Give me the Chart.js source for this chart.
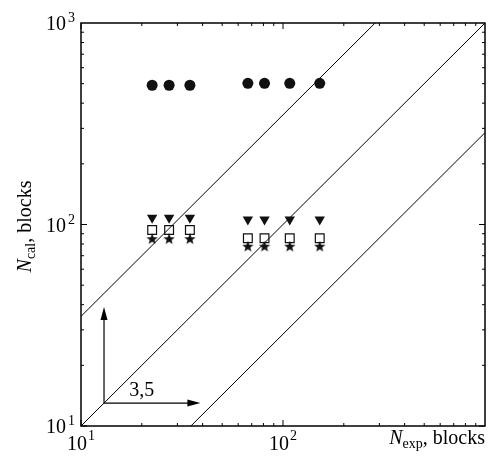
<!DOCTYPE html>
<html>
<head>
<meta charset="utf-8">
<script src="https://cdn.jsdelivr.net/npm/chart.js@4"></script>
<style>
  body { margin: 0; background: #fff; }
</style>
</head>
<body>
<canvas id="c" width="488" height="468"></canvas>
<script>
// experimental block counts (x) and calculated ones (y) for the four methods
const nExp = [22.5, 27.3, 34.6, 67, 81, 108, 152];
const circles = [491, 491, 491, 502, 502, 502, 502];
const triangles = [108, 108, 108, 106, 106, 106, 106];
const squares = [94, 94, 94, 85.5, 85.5, 85.5, 85.5];
const stars = [84.5, 84.5, 84.5, 77.6, 77.6, 77.6, 77.6];

// reference lines y = k * x
const ratios = [3.5, 1, 1 / 3.5];
const axisMin = 10, axisMax = 1000;
const xLabelTicks = [10, 100];
const yLabelTicks = [10, 100, 1000];
const arrowFrom = 13, arrowTo = 39, arrowLabel = '3,5';

const INK = '#111';
const SERIF = '"Liberation Serif", "Times New Roman", serif';

function pts(ys) {
    return nExp.map((x, i) => ({ x: x, y: ys[i] }));
}

// filled five-pointed star, used as point style
function makeStar(size) {
    const cv = document.createElement('canvas');
    cv.width = size; cv.height = size;
    const g = cv.getContext('2d');
    const c = size / 2, R = size / 2, r = R * 0.42;
    g.beginPath();
    for (let i = 0; i < 10; i++) {
        const a = -Math.PI / 2 + i * Math.PI / 5;
        const rr = i % 2 ? r : R;
        g.lineTo(c + rr * Math.cos(a), c + rr * Math.sin(a));
    }
    g.closePath();
    g.fillStyle = INK;
    g.fill();
    return cv;
}

const lineSets = ratios.map(k => ({
    type: 'line',
    data: [{ x: axisMin, y: k * axisMin }, { x: axisMax, y: k * axisMax }],
    borderColor: '#000',
    borderWidth: 1,
    pointRadius: 0,
    fill: false
}));

const frameAndText = {
    id: 'frameAndText',
    afterDatasetsDraw(chart) {
        const c = chart.ctx;
        const { left, right, top, bottom } = chart.chartArea;
        const xs = chart.scales.x, ys = chart.scales.y;
        c.save();
        c.strokeStyle = '#000';
        c.fillStyle = '#000';

        // arrows
        const ox = xs.getPixelForValue(arrowFrom), oy = ys.getPixelForValue(arrowFrom);
        const tx = xs.getPixelForValue(arrowTo), ty = ys.getPixelForValue(arrowTo);
        c.lineWidth = 1.2;
        c.beginPath();
        c.moveTo(ox, oy); c.lineTo(ox, ty + 10);
        c.moveTo(ox, oy); c.lineTo(tx - 10, oy);
        c.stroke();
        c.beginPath();
        c.moveTo(ox, ty); c.lineTo(ox - 3.5, ty + 13); c.lineTo(ox + 3.5, ty + 13); c.closePath();
        c.moveTo(tx, oy); c.lineTo(tx - 13, oy - 3.5); c.lineTo(tx - 13, oy + 3.5); c.closePath();
        c.fill();
        c.font = '20px ' + SERIF;
        c.textAlign = 'center';
        c.textBaseline = 'alphabetic';
        c.fillText(arrowLabel, xs.getPixelForValue(20), oy - 7);

        // frame
        c.lineWidth = 1.5;
        c.strokeRect(left, top, right - left, bottom - top);

        // inward ticks on all four sides
        c.lineWidth = 1;
        c.beginPath();
        for (let d = axisMin; d < axisMax; d *= 10) {
            for (let m = 1; m < 10; m++) {
                const v = d * m;
                const len = m === 1 ? 6 : 3;
                const x = xs.getPixelForValue(v), y = ys.getPixelForValue(v);
                c.moveTo(x, bottom); c.lineTo(x, bottom - len);
                c.moveTo(x, top); c.lineTo(x, top + len);
                c.moveTo(left, y); c.lineTo(left + len, y);
                c.moveTo(right, y); c.lineTo(right - len, y);
            }
        }
        c.stroke();

        // tick labels 10^n
        const big = '20px ' + SERIF, small = '14px ' + SERIF;
        c.textAlign = 'left';
        yLabelTicks.forEach(v => {
            const y = ys.getPixelForValue(v);
            const e = String(Math.round(Math.log10(v)));
            c.font = small;
            const we = c.measureText(e).width;
            c.fillText(e, left - 6 - we, y - 1);
            c.font = big;
            const wb = c.measureText('10').width;
            c.fillText('10', left - 6 - we - 2 - wb, y + 7);
        });
        xLabelTicks.forEach(v => {
            const x = xs.getPixelForValue(v);
            const e = String(Math.round(Math.log10(v)));
            c.font = big;
            const wb = c.measureText('10').width;
            c.font = small;
            const we = c.measureText(e).width;
            const x0 = x - (wb + 1 + we) / 2;
            c.font = big;
            c.fillText('10', x0, bottom + 24);
            c.font = small;
            c.fillText(e, x0 + wb + 1, bottom + 14);
        });

        // axis titles
        function title(parts, x, y, align) {
            let w = 0;
            parts.forEach(p => { c.font = p.f; w += c.measureText(p.t).width; });
            let cx = align === 'right' ? x - w : x - w / 2;
            parts.forEach(p => {
                c.font = p.f;
                c.fillText(p.t, cx, y + (p.dy || 0));
                cx += c.measureText(p.t).width;
            });
        }
        const itl = 'italic 20px ' + SERIF;
        title([{ t: 'N', f: itl }, { t: 'exp', f: small, dy: 4 }, { t: ', blocks', f: big }], right, bottom + 18, 'right');
        c.translate(31, (top + bottom) / 2 + 2);
        c.rotate(-Math.PI / 2);
        title([{ t: 'N', f: itl }, { t: 'cal', f: small, dy: 4 }, { t: ', blocks', f: big }], 0, 0, 'center');
        c.restore();
    }
};

new Chart(document.getElementById('c'), {
    type: 'scatter',
    data: {
        datasets: [
            { data: pts(circles), pointStyle: 'circle', pointRadius: 5.5, backgroundColor: INK, borderColor: INK, borderWidth: 0 },
            { data: pts(triangles), pointStyle: 'triangle', rotation: 180, pointRadius: 6, backgroundColor: INK, borderColor: INK, borderWidth: 0 },
            { data: pts(squares), pointStyle: 'rect', pointRadius: 6.2, backgroundColor: 'rgba(0,0,0,0)', borderColor: INK, borderWidth: 1.2 },
            { data: pts(stars), pointStyle: makeStar(12), pointRadius: 6 },
            ...lineSets
        ]
    },
    options: {
        responsive: false,
        animation: false,
        layout: { autoPadding: false, padding: { left: 81, top: 23, right: 3, bottom: 42 } },
        scales: {
            x: {
                type: 'logarithmic', min: axisMin, max: axisMax,
                ticks: { display: false }, grid: { display: false }, border: { display: false },
                afterFit: s => { s.height = 0; }
            },
            y: {
                type: 'logarithmic', min: axisMin, max: axisMax,
                ticks: { display: false }, grid: { display: false }, border: { display: false },
                afterFit: s => { s.width = 0; }
            }
        },
        plugins: {
            legend: { display: false },
            tooltip: { enabled: false }
        }
    },
    plugins: [frameAndText]
});
</script>
</body>
</html>
